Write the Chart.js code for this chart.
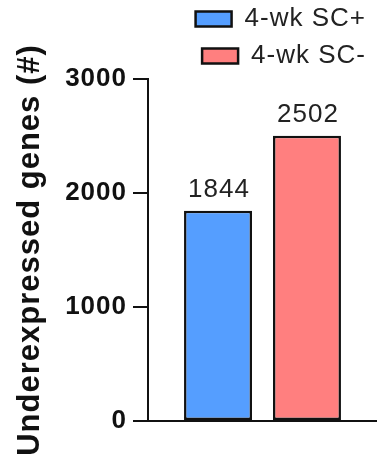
<!DOCTYPE html>
<html>
<head>
<meta charset="utf-8">
<script src="https://cdn.jsdelivr.net/npm/chart.js@4/dist/chart.umd.min.js"></script>
<style>
  html, body { margin: 0; padding: 0; background: #ffffff; }
  #c { display: block; }
</style>
</head>
<body>
<canvas id="c" width="377" height="461"></canvas>
<script>
// Underexpressed gene counts per group
const categories = [''];
const seriesNames = ['4-wk SC+', '4-wk SC-'];
const seriesValues = [[1844], [2502]];
const seriesColors = ['#559EFF', '#FF7F7F'];
const yTicks = [0, 1000, 2000, 3000];
const yTitle = 'Underexpressed genes (#)';

const FONT = '"Liberation Sans", Arial, Helvetica, sans-serif';
const LETTER_SPACING = '1px';

// Slightly open tracking for all text on the canvas
const textTracking = {
  id: 'textTracking',
  beforeUpdate(chart) { chart.ctx.letterSpacing = LETTER_SPACING; },
  beforeLayout(chart) { chart.ctx.letterSpacing = LETTER_SPACING; },
  beforeDraw(chart) { chart.ctx.letterSpacing = LETTER_SPACING; }
};

// Writes each bar's value above it
const valueLabels = {
  id: 'valueLabels',
  afterDatasetsDraw(chart) {
    const ctx = chart.ctx;
    ctx.save();
    ctx.font = '26px ' + FONT;
    ctx.fillStyle = '#222222';
    ctx.textAlign = 'center';
    ctx.textBaseline = 'alphabetic';
    chart.data.datasets.forEach((ds, i) => {
      chart.getDatasetMeta(i).data.forEach((bar, j) => {
        ctx.fillText(String(ds.data[j]), bar.x + 1, bar.y - 14);
      });
    });
    ctx.restore();
  }
};

new Chart(document.getElementById('c'), {
  type: 'bar',
  data: {
    labels: categories,
    datasets: seriesNames.map((name, i) => ({
      label: name,
      data: seriesValues[i],
      backgroundColor: seriesColors[i],
      borderColor: '#111111',
      borderWidth: 2.5,
      borderSkipped: false,
      categoryPercentage: 0.777,
      barPercentage: 0.764
    }))
  },
  options: {
    responsive: false,
    animation: false,
    layout: { padding: { left: 0, right: 0, top: -5, bottom: 32 } },
    plugins: {
      tooltip: { enabled: false },
      legend: {
        position: 'top',
        fullSize: false,
        align: 'end',
        labels: {
          boxWidth: 36,
          boxHeight: 15,
          padding: 11,
          color: '#222222',
          font: { family: FONT, size: 26 }
        }
      }
    },
    scales: {
      x: {
        grid: { display: false },
        border: { display: true, color: '#111111', width: 2 },
        ticks: { display: false }
      },
      y: {
        min: 0,
        max: 3000,
        afterBuildTicks(scale) { scale.ticks = yTicks.map(v => ({ value: v })); },
        afterFit(scale) { scale.width = 148; },
        grid: {
          drawOnChartArea: false,
          drawTicks: true,
          tickLength: 15,
          tickColor: '#111111',
          lineWidth: 2
        },
        border: { display: true, color: '#111111', width: 2 },
        ticks: {
          padding: 6,
          color: '#111111',
          font: { family: FONT, size: 26, weight: 'bold' },
          callback: (v) => String(v)
        },
        title: {
          display: true,
          text: yTitle,
          color: '#111111',
          padding: { top: 12, bottom: 0 },
          font: { family: FONT, size: 31, weight: 'bold' }
        }
      }
    }
  },
  plugins: [textTracking, valueLabels]
});
</script>
</body>
</html>
